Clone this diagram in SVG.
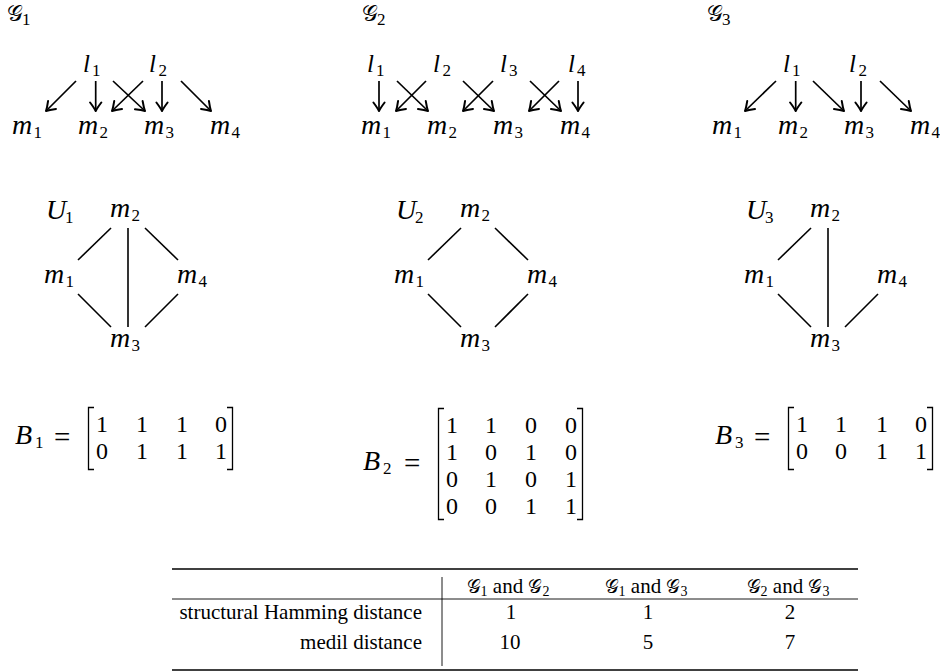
<svg xmlns="http://www.w3.org/2000/svg" width="940" height="672" viewBox="0 0 940 672">
<style>
text { fill: #000; }
.mi { font-family: "Liberation Serif", "Times New Roman", serif; font-style: italic; font-size: 28px; }
.li { font-family: "Liberation Serif", "Times New Roman", serif; font-style: italic; font-size: 25px; }
.cal { font-family: "DejaVu Serif", "DejaVu Sans", "Noto Sans", serif; font-style: normal; font-size: 22px; }
.sub { font-family: "Liberation Serif", serif; font-style: normal; font-size: 17px; }
.num { font-family: "Liberation Serif", "Times New Roman", serif; font-size: 24px; text-anchor: middle; }
.eq { font-family: "Liberation Serif", serif; font-size: 29px; }
.tt { font-family: "Liberation Serif", "Times New Roman", serif; font-size: 21px; }
.tcal { font-family: "DejaVu Serif", "DejaVu Sans", serif; font-size: 19px; }
.tsub { font-size: 14px; }
.arr { stroke: #000; stroke-width: 1.7; fill: none; marker-end: url(#ah); }
.edge { stroke: #000; stroke-width: 1.6; fill: none; }
.br { stroke: #000; stroke-width: 1.3; fill: none; }
.rule { stroke: #000; fill: none; }
</style>
<defs>
<marker id="ah" markerUnits="userSpaceOnUse" markerWidth="14" markerHeight="14" viewBox="-11 -7 13 14" refX="0" refY="0" orient="auto">
<path d="M-8.5,-5.6 Q-3,-1.5 0,0 Q-3,1.5 -8.5,5.6" stroke="#000" stroke-width="2" fill="none" stroke-linecap="round" stroke-linejoin="round"/>
</marker>
</defs>

<!-- Graph titles -->
<g id="title-G1"><text class="cal" x="7" y="21">𝒢<tspan class="sub" x="22" y="25">1</tspan></text></g>
<g id="title-G2"><text class="cal" x="362" y="21">𝒢<tspan class="sub" x="377" y="25">2</tspan></text></g>
<g id="title-G3"><text class="cal" x="707" y="21">𝒢<tspan class="sub" x="722" y="25">3</tspan></text></g>

<!-- G1 nodes -->
<g id="G1-l1"><text class="li" x="83" y="72">l<tspan class="sub" x="92" y="75.5">1</tspan></text></g>
<g id="G1-l2"><text class="li" x="149" y="72">l<tspan class="sub" x="158.5" y="75.5">2</tspan></text></g>
<g id="G1-m1"><text class="mi" x="12" y="134">m<tspan class="sub" x="33.5" y="137.5">1</tspan></text></g>
<g id="G1-m2"><text class="mi" x="78" y="134">m<tspan class="sub" x="99.5" y="137.5">2</tspan></text></g>
<g id="G1-m3"><text class="mi" x="144" y="134">m<tspan class="sub" x="165.5" y="137.5">3</tspan></text></g>
<g id="G1-m4"><text class="mi" x="210" y="134">m<tspan class="sub" x="231.5" y="137.5">4</tspan></text></g>

<!-- G2 nodes -->
<g id="G2-l1"><text class="li" x="367" y="72">l<tspan class="sub" x="376" y="75.5">1</tspan></text></g>
<g id="G2-l2"><text class="li" x="433" y="72">l<tspan class="sub" x="442.5" y="75.5">2</tspan></text></g>
<g id="G2-l3"><text class="li" x="500" y="72">l<tspan class="sub" x="509" y="75.5">3</tspan></text></g>
<g id="G2-l4"><text class="li" x="568" y="72">l<tspan class="sub" x="577" y="75.5">4</tspan></text></g>
<g id="G2-m1"><text class="mi" x="361" y="134">m<tspan class="sub" x="382.5" y="137.5">1</tspan></text></g>
<g id="G2-m2"><text class="mi" x="427" y="134">m<tspan class="sub" x="448.5" y="137.5">2</tspan></text></g>
<g id="G2-m3"><text class="mi" x="493" y="134">m<tspan class="sub" x="514.5" y="137.5">3</tspan></text></g>
<g id="G2-m4"><text class="mi" x="560" y="134">m<tspan class="sub" x="581.5" y="137.5">4</tspan></text></g>

<!-- G3 nodes -->
<g id="G3-l1"><text class="li" x="783" y="72">l<tspan class="sub" x="792" y="75.5">1</tspan></text></g>
<g id="G3-l2"><text class="li" x="849" y="72">l<tspan class="sub" x="858.5" y="75.5">2</tspan></text></g>
<g id="G3-m1"><text class="mi" x="712" y="134">m<tspan class="sub" x="733.5" y="137.5">1</tspan></text></g>
<g id="G3-m2"><text class="mi" x="778" y="134">m<tspan class="sub" x="799.5" y="137.5">2</tspan></text></g>
<g id="G3-m3"><text class="mi" x="844" y="134">m<tspan class="sub" x="865.5" y="137.5">3</tspan></text></g>
<g id="G3-m4"><text class="mi" x="910" y="134">m<tspan class="sub" x="931.5" y="137.5">4</tspan></text></g>

<!-- U1 nodes -->
<g id="U1-label"><text class="mi" x="46" y="219">U<tspan class="sub" x="65" y="222.5">1</tspan></text></g>
<g id="U1-m2"><text class="mi" x="110" y="217">m<tspan class="sub" x="131.5" y="220.5">2</tspan></text></g>
<g id="U1-m1"><text class="mi" x="44" y="283">m<tspan class="sub" x="65.5" y="286.5">1</tspan></text></g>
<g id="U1-m4"><text class="mi" x="177" y="283">m<tspan class="sub" x="198.5" y="286.5">4</tspan></text></g>
<g id="U1-m3"><text class="mi" x="110" y="347">m<tspan class="sub" x="131.5" y="350.5">3</tspan></text></g>

<!-- U2 nodes -->
<g id="U2-label"><text class="mi" x="396" y="219">U<tspan class="sub" x="415" y="222.5">2</tspan></text></g>
<g id="U2-m2"><text class="mi" x="460" y="217">m<tspan class="sub" x="481.5" y="220.5">2</tspan></text></g>
<g id="U2-m1"><text class="mi" x="394" y="283">m<tspan class="sub" x="415.5" y="286.5">1</tspan></text></g>
<g id="U2-m4"><text class="mi" x="527" y="283">m<tspan class="sub" x="548.5" y="286.5">4</tspan></text></g>
<g id="U2-m3"><text class="mi" x="460" y="347">m<tspan class="sub" x="481.5" y="350.5">3</tspan></text></g>

<!-- U3 nodes -->
<g id="U3-label"><text class="mi" x="746" y="219">U<tspan class="sub" x="765" y="222.5">3</tspan></text></g>
<g id="U3-m2"><text class="mi" x="810" y="217">m<tspan class="sub" x="831.5" y="220.5">2</tspan></text></g>
<g id="U3-m1"><text class="mi" x="744" y="283">m<tspan class="sub" x="765.5" y="286.5">1</tspan></text></g>
<g id="U3-m4"><text class="mi" x="877" y="283">m<tspan class="sub" x="898.5" y="286.5">4</tspan></text></g>
<g id="U3-m3"><text class="mi" x="810" y="347">m<tspan class="sub" x="831.5" y="350.5">3</tspan></text></g>

<!-- Connectors -->
<g id="connectors">
<line class="arr" x1="76" y1="81" x2="46" y2="111"/>
<line class="arr" x1="95.7" y1="81" x2="95.7" y2="111"/>
<line class="arr" x1="113" y1="81" x2="145" y2="111"/>
<line class="arr" x1="143" y1="81" x2="112" y2="111"/>
<line class="arr" x1="162" y1="81" x2="162" y2="111"/>
<line class="arr" x1="181" y1="81" x2="211" y2="111"/>

<line class="arr" x1="379" y1="81" x2="379" y2="111"/>
<line class="arr" x1="397" y1="81" x2="428" y2="111"/>
<line class="arr" x1="426" y1="81" x2="396" y2="111"/>
<line class="arr" x1="463" y1="81" x2="494" y2="111"/>
<line class="arr" x1="493" y1="81" x2="463" y2="111"/>
<line class="arr" x1="530" y1="81" x2="561" y2="111"/>
<line class="arr" x1="559" y1="81" x2="529" y2="111"/>
<line class="arr" x1="578" y1="81" x2="578" y2="111"/>

<line class="arr" x1="776" y1="81" x2="745" y2="111"/>
<line class="arr" x1="795.7" y1="81" x2="795.7" y2="111"/>
<line class="arr" x1="813" y1="81" x2="844" y2="111"/>
<line class="arr" x1="861" y1="81" x2="861" y2="111"/>
<line class="arr" x1="880" y1="81" x2="911" y2="111"/>

<line class="edge" x1="111" y1="228" x2="78" y2="260"/>
<line class="edge" x1="128" y1="228" x2="128" y2="327"/>
<line class="edge" x1="145" y1="228" x2="178" y2="260"/>
<line class="edge" x1="78" y1="294" x2="111" y2="327"/>
<line class="edge" x1="178" y1="294" x2="145" y2="327"/>

<line class="edge" x1="461" y1="228" x2="428" y2="260"/>
<line class="edge" x1="495" y1="228" x2="528" y2="260"/>
<line class="edge" x1="428" y1="294" x2="461" y2="327"/>
<line class="edge" x1="528" y1="294" x2="495" y2="327"/>

<line class="edge" x1="811" y1="228" x2="778" y2="260"/>
<line class="edge" x1="828" y1="228" x2="828" y2="327"/>
<line class="edge" x1="778" y1="294" x2="811" y2="327"/>
<line class="edge" x1="878" y1="294" x2="845" y2="327"/>
</g>

<!-- Matrix B1 -->
<g id="B1">
<text class="mi" x="15" y="444">B<tspan class="sub" x="35" y="448">1</tspan></text>
<text class="eq" x="54" y="447">=</text>
<path class="br" d="M94,407.5 H88.5 V469.5 H94"/>
<path class="br" d="M227,407.5 H232.5 V469.5 H227"/>
<text class="num" y="432"><tspan x="102">1</tspan><tspan x="142">1</tspan><tspan x="182">1</tspan><tspan x="221">0</tspan></text>
<text class="num" y="459"><tspan x="102">0</tspan><tspan x="142">1</tspan><tspan x="182">1</tspan><tspan x="221">1</tspan></text>
</g>

<!-- Matrix B2 -->
<g id="B2">
<text class="mi" x="363" y="470">B<tspan class="sub" x="383" y="474">2</tspan></text>
<text class="eq" x="404" y="473">=</text>
<path class="br" d="M444,408.5 H438.5 V519.5 H444"/>
<path class="br" d="M577,408.5 H582.5 V519.5 H577"/>
<text class="num" y="433"><tspan x="452">1</tspan><tspan x="491">1</tspan><tspan x="531">0</tspan><tspan x="571">0</tspan></text>
<text class="num" y="460"><tspan x="452">1</tspan><tspan x="491">0</tspan><tspan x="531">1</tspan><tspan x="571">0</tspan></text>
<text class="num" y="487"><tspan x="452">0</tspan><tspan x="491">1</tspan><tspan x="531">0</tspan><tspan x="571">1</tspan></text>
<text class="num" y="514"><tspan x="452">0</tspan><tspan x="491">0</tspan><tspan x="531">1</tspan><tspan x="571">1</tspan></text>
</g>

<!-- Matrix B3 -->
<g id="B3">
<text class="mi" x="715" y="444">B<tspan class="sub" x="735" y="448">3</tspan></text>
<text class="eq" x="754" y="447">=</text>
<path class="br" d="M794,407.5 H788.5 V469.5 H794"/>
<path class="br" d="M927,407.5 H932.5 V469.5 H927"/>
<text class="num" y="432"><tspan x="802">1</tspan><tspan x="841">1</tspan><tspan x="882">1</tspan><tspan x="921">0</tspan></text>
<text class="num" y="459"><tspan x="802">0</tspan><tspan x="841">0</tspan><tspan x="882">1</tspan><tspan x="921">1</tspan></text>
</g>

<!-- Table -->
<g id="table">
<line class="rule" x1="172" y1="569" x2="858" y2="569" stroke-width="1.4"/>
<line class="rule" x1="172" y1="599" x2="858" y2="599" stroke-width="0.9"/>
<line class="rule" x1="172" y1="670" x2="858" y2="670" stroke-width="1.4"/>
<line class="rule" x1="442" y1="577" x2="442" y2="666" stroke-width="0.9"/>
<text class="tt" x="508" y="593" text-anchor="middle"><tspan class="tcal">𝒢</tspan><tspan class="tsub" dy="3">1</tspan><tspan dy="-3"> and </tspan><tspan class="tcal">𝒢</tspan><tspan class="tsub" dy="3">2</tspan></text>
<text class="tt" x="646" y="593" text-anchor="middle"><tspan class="tcal">𝒢</tspan><tspan class="tsub" dy="3">1</tspan><tspan dy="-3"> and </tspan><tspan class="tcal">𝒢</tspan><tspan class="tsub" dy="3">3</tspan></text>
<text class="tt" x="788" y="593" text-anchor="middle"><tspan class="tcal">𝒢</tspan><tspan class="tsub" dy="3">2</tspan><tspan dy="-3"> and </tspan><tspan class="tcal">𝒢</tspan><tspan class="tsub" dy="3">3</tspan></text>
<text class="tt" x="422" y="619" text-anchor="end">structural Hamming distance</text>
<text class="tt" x="422" y="649" text-anchor="end">medil distance</text>
<text class="tt" x="511" y="619" text-anchor="middle">1</text>
<text class="tt" x="648" y="619" text-anchor="middle">1</text>
<text class="tt" x="790" y="619" text-anchor="middle">2</text>
<text class="tt" x="510" y="649" text-anchor="middle">10</text>
<text class="tt" x="648" y="649" text-anchor="middle">5</text>
<text class="tt" x="790" y="649" text-anchor="middle">7</text>
</g>
</svg>
